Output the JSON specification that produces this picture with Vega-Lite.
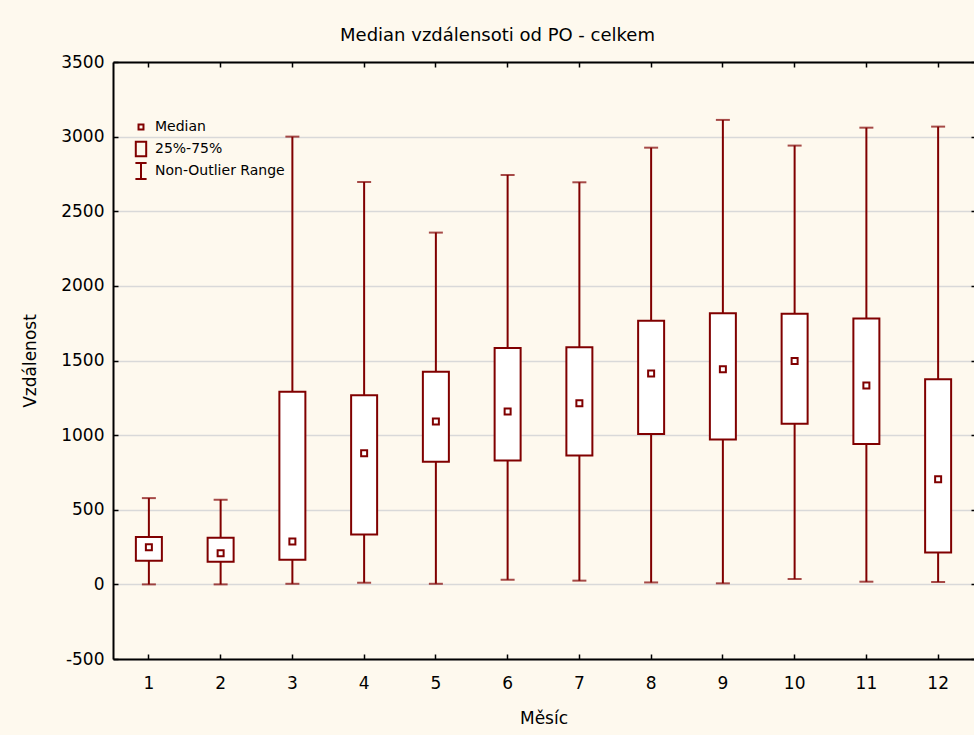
{
  "$schema": "https://vega.github.io/schema/vega-lite/v6.json",
  "width": 861,
  "height": 597,
  "autosize": {"type": "none"},
  "padding": {"left": 113, "top": 62, "right": 0, "bottom": 76},
  "background": "#FEF9EE",
  "config": {
    "view": {"fill": "white", "stroke": null},
    "font": "DejaVu Sans"
  },
  "title": {
    "text": "Median vzdálensoti od PO - celkem",
    "fontSize": 18,
    "fontWeight": "normal",
    "color": "#000000",
    "baseline": "alphabetic",
    "offset": 20,
    "dx": -46,
    "dy": 26,
    "anchor": "middle"
  },
  "datasets": {
    "boxes": [
      {"m": 1, "low": 0, "q1": 159, "med": 249, "q3": 318, "high": 578},
      {"m": 2, "low": 0, "q1": 152, "med": 209, "q3": 312, "high": 567},
      {"m": 3, "low": 4, "q1": 165, "med": 288, "q3": 1290, "high": 3000},
      {"m": 4, "low": 11, "q1": 335, "med": 879, "q3": 1268, "high": 2696},
      {"m": 5, "low": 4, "q1": 821, "med": 1092, "q3": 1424, "high": 2357},
      {"m": 6, "low": 31, "q1": 830, "med": 1158, "q3": 1583, "high": 2743},
      {"m": 7, "low": 25, "q1": 864, "med": 1214, "q3": 1589, "high": 2694},
      {"m": 8, "low": 13, "q1": 1007, "med": 1413, "q3": 1766, "high": 2926},
      {"m": 9, "low": 7, "q1": 971, "med": 1442, "q3": 1817, "high": 3112},
      {"m": 10, "low": 36, "q1": 1076, "med": 1496, "q3": 1813, "high": 2940},
      {"m": 11, "low": 18, "q1": 940, "med": 1333, "q3": 1781, "high": 3060},
      {"m": 12, "low": 16, "q1": 214, "med": 705, "q3": 1375, "high": 3067}
    ],
    "legend": [
      {"item": "Median"},
      {"item": "25%-75%"},
      {"item": "Non-Outlier Range"}
    ]
  },
  "resolve": {"axis": {"x": "independent", "y": "independent"}},
  "layer": [
    {
      "data": {"name": "boxes"},
      "mark": {"type": "rule", "color": "#800000", "strokeWidth": 2},
      "encoding": {
        "x": {
          "field": "m", "type": "ordinal",
          "scale": {"type": "band", "paddingInner": 0, "paddingOuter": 0},
          "axis": {
            "orient": "bottom", "labelAngle": 0, "labelFontSize": 17, "labelColor": "#000000",
            "labelPadding": 21, "tickSize": -5, "tickColor": "#000000", "tickWidth": 1.5,
            "domainColor": "#000000", "domainWidth": 2,
            "title": "Měsíc", "titleFontSize": 17, "titleFontWeight": "normal", "titleColor": "#000000",
            "titleBaseline": "alphabetic", "titleY": 64
          }
        },
        "y": {
          "field": "low", "type": "quantitative",
          "scale": {"domain": [-500, 3500], "nice": false, "zero": false},
          "axis": {
            "orient": "left",
            "values": [-500, 0, 500, 1000, 1500, 2000, 2500, 3000, 3500],
            "labelExpr": "'' + datum.value",
            "labelFontSize": 17, "labelColor": "#000000", "labelPadding": 14,
            "tickSize": -5, "tickColor": "#000000", "tickWidth": 1.5,
            "domainColor": "#000000", "domainWidth": 2,
            "grid": true, "gridColor": "#d9d9d9", "gridWidth": 1.5,
            "title": "Vzdálenost", "titleFontSize": 17, "titleFontWeight": "normal", "titleColor": "#000000",
            "titleX": -83, "titleBaseline": "middle"
          }
        },
        "y2": {"field": "high"}
      }
    },
    {
      "data": {"name": "boxes"},
      "mark": {"type": "tick", "color": "#800000", "size": 14, "thickness": 2},
      "encoding": {
        "x": {
          "field": "m", "type": "ordinal",
          "axis": {
            "orient": "top", "labels": false, "title": null,
            "tickSize": -5, "tickColor": "#000000", "tickWidth": 1.5,
            "domainColor": "#000000", "domainWidth": 2
          }
        },
        "y": {
          "field": "low", "type": "quantitative",
          "axis": {
            "orient": "right", "labels": false, "title": null, "domain": false, "grid": false,
            "values": [-500, 0, 500, 1000, 1500, 2000, 2500, 3000, 3500],
            "tickSize": -3, "tickColor": "#000000", "tickWidth": 1.5
          }
        }
      }
    },
    {
      "data": {"name": "boxes"},
      "mark": {"type": "tick", "color": "#800000", "size": 14, "thickness": 2},
      "encoding": {
        "x": {"field": "m", "type": "ordinal", "axis": null},
        "y": {"field": "high", "type": "quantitative", "axis": null}
      }
    },
    {
      "data": {"name": "boxes"},
      "mark": {"type": "bar", "fill": "white", "stroke": "#800000", "strokeWidth": 2, "size": 26},
      "encoding": {
        "x": {"field": "m", "type": "ordinal", "axis": null},
        "y": {"field": "q1", "type": "quantitative", "axis": null},
        "y2": {"field": "q3"}
      }
    },
    {
      "data": {"name": "boxes"},
      "mark": {"type": "point", "shape": "square", "size": 36, "filled": false, "fill": "white", "stroke": "#800000", "strokeWidth": 2, "opacity": 1},
      "encoding": {
        "x": {"field": "m", "type": "ordinal", "axis": null},
        "y": {"field": "med", "type": "quantitative", "axis": null}
      }
    },
    {
      "data": {"name": "legend"},
      "mark": {"type": "point", "filled": false, "color": "#800000", "strokeWidth": 2},
      "encoding": {
        "shape": {
          "field": "item", "type": "nominal",
          "scale": {
            "domain": ["Median", "25%-75%", "Non-Outlier Range"],
            "range": [
              "M-0.31,-0.31H0.31V0.31H-0.31Z",
              "M-0.65,-0.9H0.65V0.9H-0.65Z",
              "M-0.7,-1H0.7M0,-1V1M-0.7,1H0.7"
            ]
          },
          "legend": {
            "orient": "none", "legendX": 19, "legendY": 56, "title": null,
            "symbolSize": 256, "symbolStrokeWidth": 2, "symbolStrokeColor": "#800000",
            "symbolFillColor": "transparent", "symbolType": "square",
            "labelFontSize": 14, "labelColor": "#000000", "labelOffset": 5, "rowPadding": -2,
            "gridAlign": "all",
            "padding": 0,
            "encode": {"symbols": {"update": {"opacity": {"value": 1}}}}
          }
        },
        "opacity": {"value": 0}
      }
    }
  ]
}
